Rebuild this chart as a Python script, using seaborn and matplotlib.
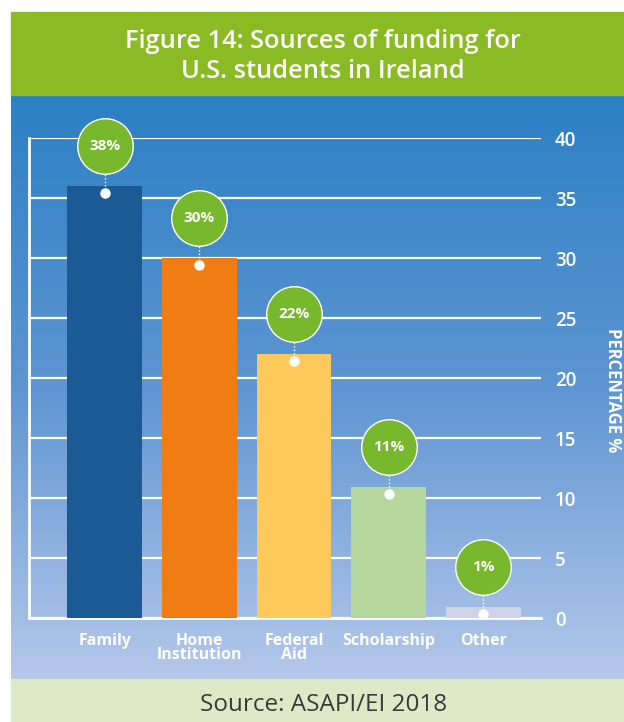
import seaborn as sns
import matplotlib.pyplot as plt
import numpy as np
import pandas as pd
from matplotlib.patches import Rectangle
from matplotlib.colors import LinearSegmentedColormap

sources = ["Family", "Home\nInstitution", "Federal\nAid", "Scholarship", "Other"]
bar_values = [36, 30, 22, 10.9, 0.9]
bubble_labels = ["38%", "30%", "22%", "11%", "1%"]
bar_colors = ["#1c5a96", "#f07c14", "#fdc95a", "#b5d69d", "#cdd4e8"]
y_ticks = [0, 5, 10, 15, 20, 25, 30, 35, 40]

df = pd.DataFrame({"source": sources, "value": bar_values})

W, H = 624, 722
fig = plt.figure(figsize=(W / 100, H / 100), dpi=100)
plt.rcParams['font.family'] = ['Open Sans', 'DejaVu Sans']


def fx(px):
    return px / W


def fy(py):
    return 1 - py / H


# header / footer bands
fig.patches.append(Rectangle((fx(11), fy(95)), fx(W - 11), fy(12) - fy(95),
                             transform=fig.transFigure, color="#8abb24", zorder=0))
fig.patches.append(Rectangle((fx(11), 0), fx(W - 11), fy(679),
                             transform=fig.transFigure, color="#e0e9c7", zorder=0))

# gradient blue panel
bg = fig.add_axes([fx(11), fy(679), fx(W - 11), fy(95) - fy(679)], zorder=0)
grad_cmap = LinearSegmentedColormap.from_list("panel", ["#2b80c4", "#5e95d2", "#b4c8ea"])
bg.imshow(np.linspace(0, 1, 256).reshape(-1, 1), aspect="auto", cmap=grad_cmap,
          extent=[0, 1, 0, 1], origin="upper")
bg.axis("off")

fig.text(fx(323), fy(42), "Figure 14: Sources of funding for", color="white",
         fontsize=18.3, fontweight="semibold", ha="center", va="center")
fig.text(fx(323), fy(72), "U.S. students in Ireland", color="white",
         fontsize=18.3, fontweight="semibold", ha="center", va="center")
fig.text(fx(324), fy(705), "Source: ASAPI/EI 2018", color="#3a3a3a",
         fontsize=17.5, ha="center", va="center")

# main chart
ax = fig.add_axes([fx(29), fy(618), fx(541) - fx(29), fy(138) - fy(618)], zorder=1)
ax.set_facecolor("none")
sns.barplot(data=df, x="source", y="value", hue="source", palette=bar_colors,
            legend=False, width=0.79, saturation=1, ax=ax, zorder=3)

ax.set_ylim(0, 40)
ax.set_xlim(-0.80, 4.61)
ax.set_yticks(y_ticks)
ax.yaxis.tick_right()
ax.tick_params(axis="y", length=0, pad=10, labelsize=13.5, labelcolor="white")
ax.tick_params(axis="x", length=0, pad=11, labelsize=11.5, labelcolor="white")
for lab in ax.get_yticklabels():
    lab.set_horizontalalignment("left")
    lab.set_fontweight("semibold")
for lab in ax.get_xticklabels():
    lab.set_fontweight("bold")
    lab.set_linespacing(0.8)
    lab.set_verticalalignment("top")
ax.grid(axis="y", color="white", linewidth=1.6, zorder=1)
ax.set_axisbelow(True)
for side in ["top", "right"]:
    ax.spines[side].set_visible(False)
ax.spines["left"].set_color("white")
ax.spines["left"].set_linewidth(2)
ax.spines["bottom"].set_color("white")
ax.spines["bottom"].set_linewidth(2)
ax.set_xlabel("")
ax.set_ylabel("")

fig.text(fx(613), fy(390), "PERCENTAGE %", color="white", fontsize=12,
         fontweight="bold", rotation=270, ha="center", va="center")

# bubbles with dotted connectors
for i, (v, txt) in enumerate(zip(bar_values, bubble_labels)):
    top = v + 3.35
    dot = v - 0.55
    ax.plot([i, i], [dot, top - 1.6], color="white", linestyle=(0, (1, 1.5)),
            linewidth=1, zorder=4, clip_on=False)
    ax.plot(i, dot, "o", color="white", markersize=6.5, zorder=5, clip_on=False)
    ax.plot(i, top, "o", markersize=40, markerfacecolor="#77b82c",
            markeredgecolor="white", markeredgewidth=1, zorder=6, clip_on=False)
    ax.text(i, top, txt, color="white", fontsize=11, fontweight="bold",
            ha="center", va="center", zorder=7, clip_on=False)

fig.savefig("out.png", dpi=100)
